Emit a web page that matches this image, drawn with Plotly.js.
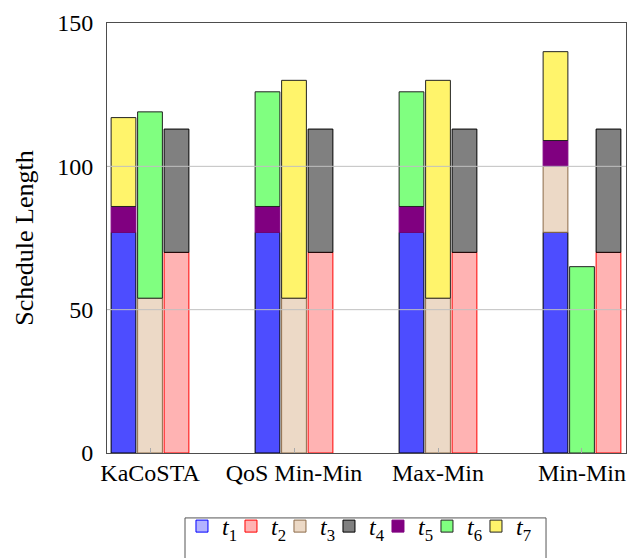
<!DOCTYPE html>
<html>
<head>
<meta charset="utf-8">
<script src="https://cdn.plot.ly/plotly-3.0.1.min.js"></script>
<style>html,body{margin:0;padding:0;background:#fff;}#chart{width:641px;height:558px;}</style>
</head>
<body>
<div id="chart"></div>
<script>
// Categories (scheduling algorithms)
const categories = ['KaCoSTA', 'QoS Min-Min', 'Max-Min', 'Min-Min'];
const taskNames = ['t1', 't2', 't3', 't4', 't5', 't6', 't7'];

// Machine (0,1,2) each task runs on, per algorithm
const t1Machine = [0, 0, 0, 0];
const t2Machine = [2, 2, 2, 2];
const t3Machine = [1, 1, 1, 0];
const t4Machine = [2, 2, 2, 2];
const t5Machine = [0, 0, 0, 0];
const t6Machine = [1, 0, 0, 1];
const t7Machine = [0, 1, 1, 0];

// Start time of each task, per algorithm
const t1Start = [0, 0, 0, 0];
const t2Start = [0, 0, 0, 0];
const t3Start = [0, 0, 0, 77];
const t4Start = [70, 70, 70, 70];
const t5Start = [77, 77, 77, 100];
const t6Start = [54, 86, 86, 0];
const t7Start = [86, 54, 54, 109];

// Duration of each task, per algorithm
const t1Length = [77, 77, 77, 77];
const t2Length = [70, 70, 70, 70];
const t3Length = [54, 54, 54, 23];
const t4Length = [43, 43, 43, 43];
const t5Length = [9, 9, 9, 9];
const t6Length = [65, 40, 40, 65];
const t7Length = [31, 76, 76, 31];

const yTicks = [0, 50, 100, 150];
const yGrid = [50, 100];

const fills = ['#4d4dff', '#ffb3b3', '#ecd9c6', '#808080', '#800080', '#80ff80', '#fff46b'];
const borders = ['#000000', '#ff0000', '#8c6a48', '#000000', '#800080', '#222222', '#222222'];

const machines = [t1Machine, t2Machine, t3Machine, t4Machine, t5Machine, t6Machine, t7Machine];
const starts = [t1Start, t2Start, t3Start, t4Start, t5Start, t6Start, t7Start];
const lengths = [t1Length, t2Length, t3Length, t4Length, t5Length, t6Length, t7Length];

const machineSpacing = 0.184;
const barWidth = 0.172;

const legendLabel = i => '<i>t</i><sub>' + (i + 1) + '</sub>';

const traces = [];
for (let i = 0; i < taskNames.length; i++) {
  const tr = {
    type: 'bar',
    name: legendLabel(i),
    x: categories,
    y: lengths[i],
    base: starts[i],
    width: barWidth,
    offset: machines[i].map(m => (m - 1) * machineSpacing - barWidth / 2),
    marker: { color: fills[i], line: { color: borders[i], width: 1 } },
    showlegend: i !== 0,
    legendrank: i + 1,
    hoverinfo: 'skip'
  };
  if (i === taskNames.length - 1) tr.legendwidth = 18;
  traces.push(tr);
}
// legend entry for t1 (lighter swatch as in the reference)
traces.push({
  type: 'bar',
  name: legendLabel(0),
  x: [null], y: [null],
  marker: { color: '#b3b3ff', line: { color: '#0000ff', width: 1 } },
  legendrank: 1,
  showlegend: true
});

const font = "'Liberation Serif', serif";

const layout = {
  width: 641, height: 558,
  margin: { l: 107, r: 15, t: 23, b: 105, autoexpand: false },
  paper_bgcolor: '#ffffff', plot_bgcolor: '#ffffff',
  barmode: 'overlay',
  font: { family: font, size: 24, color: '#000000' },
  xaxis: {
    type: 'category',
    range: [-0.2986, 3.3056],
    showgrid: false,
    showline: true, linecolor: '#4d4d4d', linewidth: 1, mirror: true,
    ticks: 'inside', ticklen: 5, tickcolor: '#aaaaaa', tickwidth: 1,
    tickfont: { family: font, size: 24, color: '#000000' },
    ticklabelstandoff: -2,
    zeroline: false, fixedrange: true, automargin: false
  },
  yaxis: {
    range: [0, 150],
    tickvals: yTicks,
    showgrid: false,
    showline: true, linecolor: '#4d4d4d', linewidth: 1, mirror: true,
    ticks: 'inside', ticklen: 5, tickcolor: '#aaaaaa',
    tickfont: { family: font, size: 24, color: '#000000' },
    ticklabelstandoff: 8,
    zeroline: false, fixedrange: true, automargin: false,
    title: { text: 'Schedule Length', font: { family: font, size: 26, color: '#000000' }, standoff: 16 }
  },
  shapes: yGrid.map(v => ({
    type: 'line', xref: 'paper', yref: 'y', x0: 0, x1: 1, y0: v, y1: v,
    line: { color: '#c0c0c0', width: 1 }, layer: 'above'
  })).concat([{
    // legend frame
    type: 'rect', xref: 'paper', yref: 'paper',
    x0: 0.1503, x1: 0.8459, y0: -0.151, y1: -0.26,
    line: { color: '#555555', width: 1 }, fillcolor: 'rgba(0,0,0,0)', layer: 'below'
  }]),
  legend: {
    orientation: 'h',
    x: 0.4884, xanchor: 'center',
    y: -0.1186, yanchor: 'top',
    bgcolor: 'rgba(0,0,0,0)',
    borderwidth: 0,
    font: { family: font, size: 24, color: '#000000' },
    itemwidth: 30,
    entrywidth: 4,
    traceorder: 'normal'
  }
};

Plotly.newPlot('chart', traces, layout, { displayModeBar: false, staticPlot: true });
</script>
</body>
</html>
